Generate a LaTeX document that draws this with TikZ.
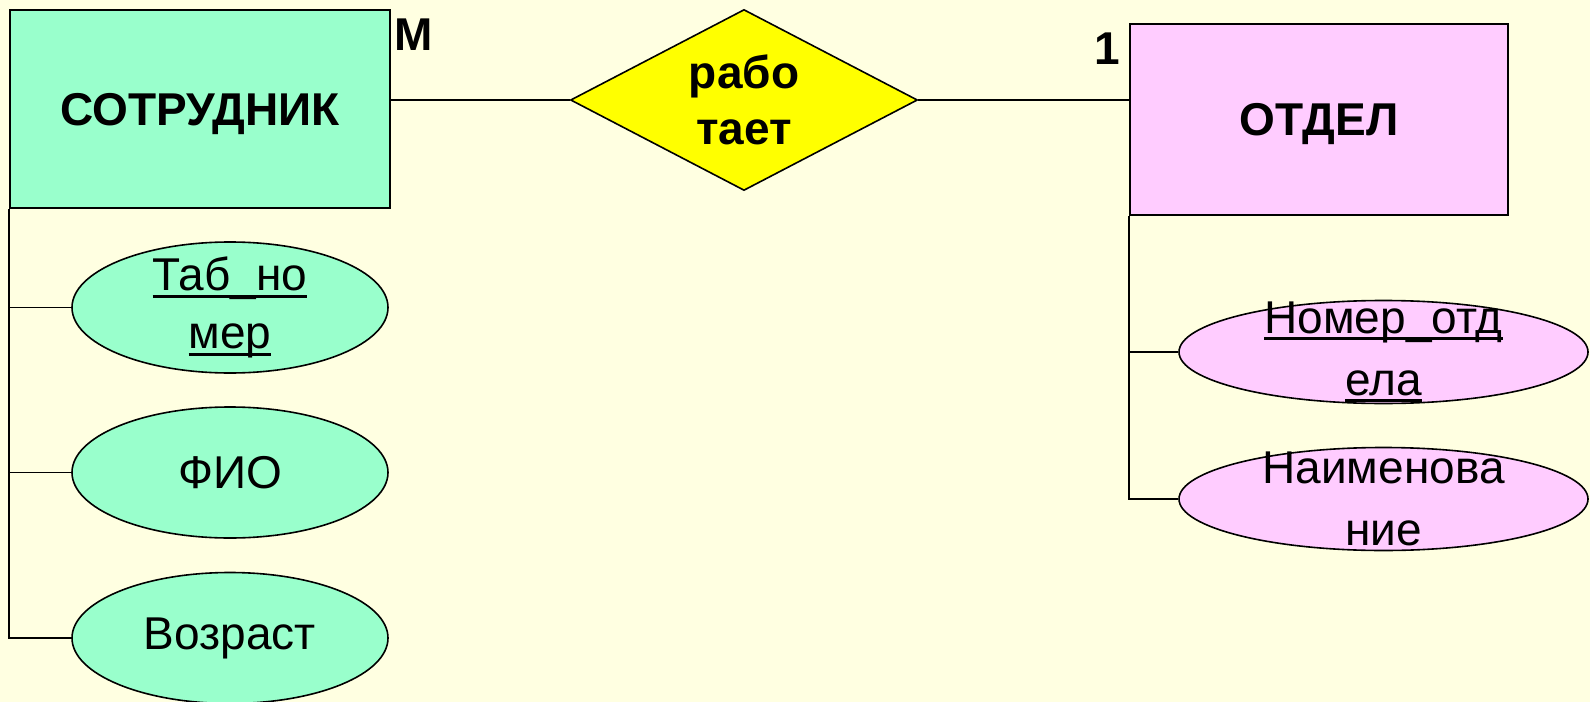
\documentclass[tikz,border=0pt]{standalone}
\usepackage{fontspec}
\setmainfont{Liberation Sans}
\usetikzlibrary{shapes.geometric}
\definecolor{paper}{RGB}{255,255,225}
\definecolor{empgreen}{RGB}{153,255,204}
\definecolor{deppink}{RGB}{255,204,255}
\definecolor{relyellow}{RGB}{255,255,0}
\newcommand{\keyline}[1]{\setbox0\hbox{#1}\rlap{\rule[-7bp]{\wd0}{3bp}}\box0}

\begin{document}
\begin{tikzpicture}[x=1bp,y=-1bp,line width=1.6bp,
    every node/.style={font=\fontsize{46bp}{55bp}\selectfont},
    entity/.style={draw,rectangle,inner sep=0pt,text depth=0pt,font=\fontsize{46bp}{55bp}\selectfont\bfseries},
    relation/.style={draw,diamond,fill=relyellow,aspect=1.92,inner sep=0pt,align=center,
      minimum width=347bp,minimum height=181bp,font=\fontsize{46bp}{56bp}\selectfont\bfseries},
    attr/.style={draw,ellipse,inner xsep=-40bp,inner ysep=-60bp,align=center,
      minimum width=316bp,minimum height=131bp,font=\fontsize{46bp}{58bp}\selectfont},
    card/.style={inner sep=0pt,font=\fontsize{46bp}{55bp}\selectfont\bfseries}]
      \fill[paper] (0,0) rectangle (1590,702);
      \useasboundingbox (0,0) rectangle (1590,702);
      \node[entity,fill=empgreen,minimum width=380bp,minimum height=198bp](emp) at (200,109) {СОТРУДНИК};
      \node[entity,fill=deppink,minimum width=378bp,minimum height=191bp](dep) at (1319,119.5) {ОТДЕЛ};
      \node[relation](rel) at (744,100) {рабо\\тает};
      \node[card](m) at (414,35) {М};
      \node[card](one) at (1107,49) {1};
      \node[attr,fill=empgreen](tab) at (230,307.5) {\keyline{Таб\_но}\\\keyline{мер}};
      \node[attr,fill=empgreen](fio) at (230,472.5) {ФИО};
      \node[attr,fill=empgreen](age) at (230,638) {Возраст};
      \node[attr,fill=deppink,minimum width=409bp,minimum height=103bp,
        font=\fontsize{46bp}{62bp}\selectfont](num) at (1383.5,352) {\keyline{Номер\_отд}\\\keyline{ела}};
      \node[attr,fill=deppink,minimum width=409bp,minimum height=103bp,
        font=\fontsize{46bp}{62bp}\selectfont](name) at (1383.5,499) {Наименова\\ние};
      \path (emp.east |- rel.west) edge (rel.west);
      \path (rel.east) edge (rel.east -| dep.west);
      \foreach \a in {tab,fio,age} \draw (emp.south west) |- (\a.west);
      \foreach \a in {num,name} \draw (dep.south west) |- (\a.west);
    \end{tikzpicture}
\end{document}
